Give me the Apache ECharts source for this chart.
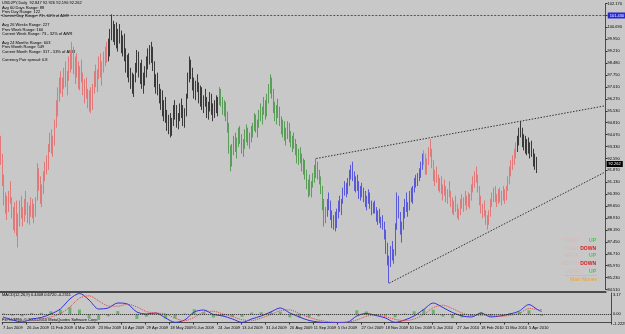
<!DOCTYPE html>
<html>
<head>
<meta charset="utf-8">
<script src="https://cdn.jsdelivr.net/npm/echarts@6/dist/echarts.min.js"></script>
<style>
html, body { margin: 0; padding: 0; background: #c8c8c8; }
#chart { width: 625px; height: 334px; }
</style>
</head>
<body>
<div id="chart"></div>
<script>
// USDJPY daily bars (Jan 2009 - Apr 2010)
const firstOpen = 93.6
const highs = [
  94.0, 92.9, 91.6, 90.5, 90.3, 90.6, 91.2, 90.2, 89.6, 89.9,
  90.0, 89.2, 90.0, 90.3, 89.6, 90.1, 90.6, 89.9, 89.7, 90.2,
  90.1, 89.8, 90.2, 92.3, 92.0, 91.5, 91.0, 91.8, 92.4, 92.8,
  93.5, 94.2, 94.4, 94.0, 95.0, 96.2, 97.0, 97.6, 98.0, 97.6,
  98.2, 98.6, 98.0, 98.9, 99.3, 99.8, 99.5, 98.9, 99.1, 98.6,
  98.3, 98.7, 97.9, 97.5, 97.6, 96.9, 96.8, 97.0, 97.2, 98.0,
  98.4, 98.1, 98.9, 99.1, 98.6, 99.2, 99.5, 99.8, 100.0, 100.6,
  101.5, 101.1, 100.9, 101.0, 100.6, 100.9, 100.5, 100.2, 100.3, 99.4,
  99.0, 99.1, 98.2, 97.9, 97.8, 98.5, 99.3, 99.2, 98.5, 98.7,
  97.9, 98.3, 98.9, 99.4, 99.6, 99.8, 99.5, 98.6, 97.8, 97.9,
  97.2, 96.9, 96.8, 96.2, 96.4, 95.6, 95.3, 95.4, 95.1, 95.9,
  96.2, 95.9, 95.4, 96.0, 96.3, 95.9, 95.7, 96.6, 97.9, 98.9,
  98.7, 98.2, 97.6, 97.4, 97.8, 97.3, 97.1, 97.0, 96.5, 96.9,
  96.4, 96.1, 96.7, 96.6, 96.0, 96.2, 96.5, 96.4, 97.0, 96.9,
  96.4, 96.2, 96.1, 95.5, 94.8, 93.4, 93.5, 94.0, 94.2, 93.9,
  94.5, 94.6, 94.1, 93.8, 94.4, 94.7, 94.5, 94.2, 94.6, 94.8,
  95.4, 95.3, 95.0, 95.6, 96.0, 95.8, 96.4, 96.2, 96.6, 97.2,
  97.8, 97.6, 96.9, 96.1, 95.9, 96.3, 95.8, 95.2, 95.0, 94.9,
  94.5, 94.9, 94.8, 94.3, 94.0, 94.2, 93.8, 93.5, 93.2, 93.3,
  92.9, 92.6, 92.5, 91.9, 91.3, 91.6, 91.2, 91.7, 92.2, 92.6,
  92.4, 91.9, 91.5, 90.9, 90.1, 89.6, 90.1, 90.5, 90.0, 89.4,
  89.1, 89.3, 89.5, 90.0, 90.3, 90.1, 90.8, 91.2, 91.1, 91.4,
  91.9, 92.2, 92.4, 91.8, 91.5, 91.6, 91.2, 90.9, 91.1, 90.8,
  90.6, 90.3, 90.7, 90.5, 90.0, 89.9, 90.0, 89.6, 89.4, 89.5,
  89.0, 89.1, 88.7, 88.2, 87.4, 86.6, 87.2, 87.5, 87.0, 88.6,
  90.5, 90.3, 89.3, 88.7, 89.6, 90.1, 90.5, 89.9, 90.6, 90.8,
  90.9, 91.4, 91.6, 91.7, 92.0, 92.4, 92.9, 93.1, 92.9, 92.6,
  93.3, 93.8, 93.2, 92.5, 91.9, 92.1, 91.6, 91.4, 91.5, 91.0,
  91.3, 90.9, 90.7, 91.2, 90.6, 90.2, 90.0, 90.3, 89.8, 89.5,
  90.1, 90.4, 90.2, 90.6, 90.3, 90.5, 90.4, 91.0, 91.5, 91.8,
  92.1, 91.6, 90.9, 90.3, 89.8, 90.0, 89.4, 89.1, 89.4, 90.1,
  90.5, 90.8, 90.9, 90.4, 90.7, 90.8, 90.6, 90.9, 90.7, 90.9,
  91.5, 92.1, 92.5, 92.8, 93.2, 93.6, 94.0, 94.5, 94.9, 94.5,
  94.1, 94.0, 93.8, 93.9, 93.6, 93.7, 93.2, 92.9, 92.7
]
const lows = [
  92.2, 90.9, 89.7, 89.2, 88.8, 89.3, 89.8, 88.9, 88.2, 88.0,
  87.8, 87.1, 88.4, 88.9, 88.4, 88.7, 89.1, 88.6, 88.5, 89.0,
  88.9, 88.6, 89.0, 90.0, 90.6, 89.8, 89.6, 90.4, 91.2, 91.6,
  91.9, 93.0, 92.9, 92.7, 93.4, 94.5, 95.2, 96.1, 96.6, 96.4,
  96.9, 97.0, 96.5, 97.4, 97.9, 98.1, 97.8, 97.2, 97.6, 96.9,
  96.8, 97.3, 96.5, 96.0, 96.3, 95.7, 95.5, 95.4, 95.6, 96.6,
  97.0, 96.7, 97.5, 97.6, 97.1, 97.9, 98.3, 98.5, 98.6, 98.9,
  99.9, 99.8, 99.6, 99.4, 99.2, 99.7, 99.1, 98.9, 98.6, 97.9,
  97.6, 97.3, 96.9, 96.6, 96.4, 97.3, 97.9, 97.6, 97.2, 96.9,
  96.6, 97.1, 97.6, 98.1, 98.4, 98.5, 98.0, 97.0, 96.6, 96.5,
  96.0, 95.6, 95.2, 94.9, 94.8, 94.3, 94.1, 93.9, 94.0, 94.6,
  95.0, 94.5, 94.4, 94.9, 95.1, 94.6, 94.5, 95.2, 96.3, 97.3,
  97.5, 96.8, 96.3, 96.2, 96.7, 96.0, 95.8, 95.6, 95.4, 95.8,
  95.1, 95.0, 95.5, 95.3, 94.9, 95.1, 95.4, 95.2, 95.9, 95.8,
  95.3, 95.2, 94.9, 94.2, 92.9, 91.8, 92.1, 92.8, 93.0, 92.6,
  93.3, 93.5, 92.9, 92.7, 93.2, 93.6, 93.4, 93.2, 93.6, 93.9,
  94.3, 94.2, 93.9, 94.5, 94.9, 94.7, 95.3, 95.0, 95.2, 96.0,
  96.6, 96.3, 95.4, 94.9, 94.7, 95.1, 94.6, 94.1, 93.9, 93.7,
  93.4, 93.8, 93.6, 93.3, 93.0, 93.2, 92.8, 92.3, 92.2, 92.3,
  91.8, 91.6, 91.3, 90.7, 90.2, 90.3, 90.2, 90.8, 91.1, 91.4,
  91.3, 91.0, 90.4, 89.4, 88.4, 88.6, 89.0, 89.4, 88.8, 88.3,
  88.2, 88.1, 88.3, 88.9, 89.3, 89.1, 89.8, 90.3, 90.2, 90.4,
  90.9, 91.3, 91.2, 90.6, 90.5, 90.6, 90.1, 90.0, 90.2, 89.9,
  89.6, 89.4, 89.8, 89.5, 89.1, 89.2, 89.2, 88.7, 88.5, 88.6,
  88.3, 88.2, 87.6, 86.7, 86.0, 84.9, 85.9, 86.3, 86.1, 86.6,
  88.2, 88.9, 87.9, 87.4, 88.2, 88.9, 89.3, 89.0, 89.4, 89.9,
  89.8, 90.5, 90.8, 90.9, 91.2, 91.4, 91.9, 92.2, 91.6, 91.6,
  92.2, 92.7, 92.0, 91.2, 90.9, 91.1, 90.6, 90.5, 90.4, 90.0,
  90.3, 89.9, 89.8, 90.2, 89.6, 89.2, 89.1, 89.3, 88.9, 88.8,
  89.1, 89.5, 89.3, 89.7, 89.4, 89.6, 89.5, 90.0, 90.5, 90.8,
  91.1, 90.5, 89.7, 89.2, 88.9, 89.0, 88.5, 88.2, 88.5, 89.0,
  89.6, 89.9, 89.9, 89.6, 89.8, 89.9, 89.7, 90.0, 89.8, 90.0,
  90.6, 91.0, 91.5, 91.9, 92.2, 92.6, 93.0, 93.4, 93.9, 93.3,
  93.1, 92.9, 92.8, 92.9, 92.6, 92.7, 92.1, 91.9, 91.7
]
const closes = [
  92.4, 91.2, 90.0, 89.6, 89.9, 90.3, 90.0, 89.2, 88.6, 89.5,
  88.1, 88.9, 89.7, 89.1, 89.4, 89.8, 89.4, 89.0, 89.5, 89.9,
  89.2, 89.5, 89.9, 91.6, 91.0, 90.2, 90.6, 91.5, 92.2, 92.0,
  93.3, 93.8, 93.2, 93.7, 94.8, 95.9, 96.6, 97.4, 97.0, 97.3,
  97.9, 97.5, 97.7, 98.6, 98.2, 99.3, 98.1, 98.5, 97.9, 97.3,
  98.0, 97.6, 96.9, 97.1, 96.5, 96.3, 96.1, 95.8, 96.9, 97.8,
  97.3, 97.9, 98.6, 97.8, 98.4, 98.9, 99.1, 99.4, 99.0, 100.4,
  100.9, 100.2, 100.6, 99.8, 100.4, 100.0, 99.4, 99.7, 98.9, 98.2,
  98.6, 97.6, 97.4, 97.1, 97.6, 98.3, 99.0, 97.9, 98.2, 97.2,
  97.5, 98.1, 98.6, 99.1, 98.7, 99.3, 98.3, 97.3, 97.5, 96.8,
  96.3, 96.5, 95.5, 95.8, 95.1, 94.7, 95.0, 94.3, 94.9, 95.6,
  95.4, 94.9, 95.2, 95.7, 95.5, 95.0, 95.4, 96.4, 97.6, 98.4,
  97.8, 97.2, 96.6, 97.1, 96.9, 96.4, 96.7, 95.9, 96.2, 96.0,
  95.5, 95.8, 96.3, 95.6, 95.4, 95.9, 96.2, 95.7, 96.6, 96.0,
  95.7, 95.9, 95.2, 94.4, 93.1, 92.4, 93.2, 93.6, 93.4, 93.7,
  94.2, 93.8, 93.2, 93.5, 94.0, 94.3, 93.7, 94.0, 94.4, 94.6,
  95.2, 94.6, 94.8, 95.4, 95.2, 95.6, 96.1, 95.4, 96.4, 97.0,
  97.4, 96.6, 95.6, 95.3, 95.7, 95.4, 94.9, 94.5, 94.7, 94.0,
  94.2, 94.6, 93.9, 93.6, 93.7, 93.5, 93.0, 92.6, 92.9, 92.5,
  92.1, 92.3, 91.6, 90.9, 91.0, 90.6, 91.0, 91.4, 91.7, 92.3,
  91.6, 91.2, 90.6, 89.7, 88.8, 89.3, 89.8, 89.7, 89.0, 88.6,
  88.9, 88.4, 89.2, 89.7, 89.6, 90.0, 90.6, 90.8, 90.5, 91.3,
  91.6, 91.8, 91.4, 90.8, 91.2, 90.8, 90.4, 90.7, 90.5, 90.1,
  89.8, 90.1, 90.3, 89.7, 89.5, 89.7, 89.4, 89.0, 89.2, 88.8,
  88.6, 88.5, 87.9, 87.0, 86.3, 86.4, 86.9, 86.6, 86.8, 88.4,
  89.6, 89.1, 88.2, 88.4, 89.3, 89.8, 89.5, 89.6, 90.4, 90.1,
  90.7, 91.2, 91.1, 91.5, 91.8, 92.2, 92.6, 92.5, 92.0, 92.4,
  93.1, 92.9, 92.3, 91.5, 91.6, 91.3, 90.9, 91.2, 90.6, 90.8,
  90.5, 90.3, 90.6, 90.4, 89.8, 89.6, 89.9, 89.5, 89.2, 89.3,
  89.8, 89.7, 90.1, 89.9, 90.2, 89.8, 90.3, 90.8, 91.2, 91.6,
  91.3, 90.7, 90.0, 89.5, 89.6, 89.2, 88.7, 88.9, 89.2, 89.9,
  90.2, 90.6, 90.1, 90.3, 90.5, 90.2, 90.4, 90.3, 90.5, 90.8,
  91.3, 91.8, 92.3, 92.6, 92.9, 93.4, 93.7, 94.3, 94.2, 93.6,
  93.8, 93.2, 93.5, 93.1, 93.3, 93.0, 92.5, 92.3, 92.26
]

// bar colour changes each quarter
const quarterStarts = [0, 68, 138, 206, 267, 326]
const quarterColors = ['#e07a7a', '#3a3a3a', '#5a9e5a', '#5a5ad8', '#e07a7a', '#3a3a3a']

// time axis labels, one every 15 bars
const dateLabels = [
  '7 Jan 2009', '26 Jan 2009', '11 Feb 2009', '4 Mar 2009', '23 Mar 2009', '10 Apr 2009',
  '29 Apr 2009', '18 May 2009', '5 Jun 2009', '24 Jun 2009', '13 Jul 2009', '31 Jul 2009',
  '20 Aug 2009', '11 Sep 2009', '5 Oct 2009', '27 Oct 2009', '18 Nov 2009', '10 Dec 2009',
  '5 Jan 2010', '27 Jan 2010', '18 Feb 2010', '11 Mar 2010', '5 Apr 2010'
]
const labelEvery = 15

// price scale labels
const priceTicks = [
  '84.510', '85.230', '85.970', '86.710', '87.450', '88.190', '88.910', '89.650', '90.390',
  '91.130', '91.870', '92.590', '93.330', '94.070', '94.810', '95.530', '96.270', '97.010',
  '97.750', '98.480', '99.210', '99.950', '100.690', '101.430', '102.170'
]
const priceMin = 84.51
const priceMax = 102.17

const hiLine = 101.43
const bidPrice = 92.262
const upperTrend = [[199, 92.6], [381, 95.85]]
const lowerTrend = [[245, 84.9], [381, 91.75]]

// MACD(12,26,9), sampled every 6 bars from the sub window
const macdStep = 6
const macdLine = [
  -0.40, -0.85, -1.15, -0.70, -0.48, 0.04, 0.79, 2.28, 3.10, 2.13,
  0.79, 0.94, 1.68, 1.53, 0.34, 0.04, 0.19, -0.55, -1.20, -0.85,
  0.34, 0.64, -0.03, -0.25, -0.70, -1.20, -0.70, -0.25, 0.34, 0.94,
  0.19, -0.40, -0.92, -1.15, -1.22, -1.22, -1.18, -0.25, 0.12, -0.18,
  -0.55, -1.20, -0.85, -0.25, 0.72, 1.68, 1.01, 0.27, -0.25, -0.40,
  0.19, -0.40, -0.25, 0.04, 0.49, 1.45, 0.60, 0.44
]
const macdSignal = [
  -0.55, -0.65, -0.85, -0.90, -0.70, -0.40, 0.10, 1.10, 2.40, 2.75,
  2.00, 1.25, 1.20, 1.50, 1.10, 0.40, 0.20, 0.05, -0.60, -0.95,
  -0.45, 0.35, 0.45, 0.05, -0.35, -0.80, -0.95, -0.55, -0.05, 0.55,
  0.65, 0.10, -0.45, -0.85, -1.10, -1.20, -1.18, -0.85, -0.30, -0.10,
  -0.35, -0.75, -0.95, -0.70, -0.05, 1.00, 1.35, 0.85, 0.20, -0.20,
  -0.15, -0.10, -0.30, -0.15, 0.15, 0.85, 0.70, 0.67
]
const macdHist = [
  0.15, -0.20, -0.30, 0.20, 0.22, 0.44, 0.69, 1.05, 0.70, -0.55,
  -0.85, -0.31, 0.48, 0.03, -0.70, -0.36, -0.01, -0.60, -0.60, 0.10,
  0.75, 0.29, -0.48, -0.30, -0.35, -0.40, 0.25, 0.30, 0.39, 0.39,
  -0.46, -0.50, -0.47, -0.30, -0.12, -0.02, 0.00, 0.60, 0.42, -0.08,
  -0.20, -0.45, 0.10, 0.45, 0.77, 0.68, -0.34, -0.58, -0.45, -0.20,
  0.34, -0.30, 0.05, 0.19, 0.34, 0.60, -0.10, -0.23
]
const macdMax = 3.17
const macdMin = -1.2229

const infoLines = [
  'USDJPY,Daily  92.847 92.926 92.196 92.262',
  'Avg 60 Days Range: 88',
  'Prev Day Range: 122',
  'Current Day Range: 73 - 60% of ADR',
  '',
  'Avg 26 Weeks Range: 227',
  'Prev Week Range: 160',
  'Current Week Range: 73 - 32% of AWR',
  '',
  'Avg 24 Months Range: 603',
  'Prev Month Range: 549',
  'Current Month Range: 317 - 53% of AMR',
  '',
  'Currency Pair spread: 0.8'
]
const moves = [['TODAY', 'UP'], ['Y-DAY', 'DOWN'], ['WEEK', 'UP'], ['MONTH', 'DOWN'], ['YEAR', 'UP']]

const totalSlots = 382
const font = 'Liberation Sans'
const hidden = 'rgba(0,0,0,0)'

const chart = echarts.init(document.getElementById('chart'))

const categories = []
for (let i = 0; i < totalSlots; i++) categories.push(i)

const colorOf = i => {
  let c = quarterColors[0]
  quarterStarts.forEach((s, k) => { if (i >= s) c = quarterColors[k] })
  return c
}

const candles = closes.map((c, i) => {
  const o = i === 0 ? firstOpen : closes[i - 1]
  const col = colorOf(i)
  return {
    value: [o, c, lows[i], highs[i]],
    itemStyle: { color: col, color0: col, borderColor: col, borderColor0: col, borderWidth: 1 }
  }
})

const sampleIdx = k => (k < macdLine.length - 1 ? k * macdStep : closes.length - 1)
const fill = arr => {
  const out = new Array(totalSlots).fill(null)
  arr.forEach((v, k) => { out[sampleIdx(k)] = v })
  return out
}

const graphics = []
infoLines.forEach((t, k) => {
  if (!t) return
  graphics.push({
    type: 'text', left: 2, top: 1 + k * 4.4,
    style: { text: t, fill: '#000', font: '4px ' + font }
  })
})
moves.forEach((m, k) => {
  const y = 238 + k * 7.7
  graphics.push({
    type: 'text', right: 46, top: y,
    style: { text: m[0], fill: '#dcb4b4', font: '5px ' + font, textAlign: 'right' }
  })
  graphics.push({
    type: 'text', right: 29, top: y,
    style: { text: m[1], fill: m[1] === 'UP' ? '#3cd03c' : '#d82020', font: 'bold 5px ' + font, textAlign: 'right' }
  })
})
graphics.push({ type: 'rect', shape: { x: 565, y: 275, width: 32, height: 0.6 }, style: { fill: '#e0b070' } })
graphics.push({
  type: 'text', left: 570, top: 277,
  style: { text: 'Main Moves', fill: '#f0a030', font: '5px ' + font }
})
graphics.push({
  type: 'text', left: 2, top: 293,
  style: { text: 'MACD(12,26,9) 0.4408 0.6720 -0.2311', fill: '#000', font: '4px ' + font }
})
graphics.push({
  type: 'text', left: 2, top: 317.5,
  style: { text: 'FxPro MT4, \u00a9 2001-2010 MetaQuotes Software Corp.', fill: '#000', font: '4px ' + font }
})

const option = {
  animation: false,
  backgroundColor: '#c8c8c8',
  textStyle: { fontFamily: font },
  grid: [
    { left: 0, top: 3.5, width: 611, height: 286 },
    { left: 0, top: 293, width: 611, height: 29.5 }
  ],
  xAxis: [
    {
      type: 'category', gridIndex: 0, data: categories, boundaryGap: true,
      axisLine: { show: true, onZero: false, lineStyle: { color: '#4a4a4a', width: 2 } },
      offset: 2,
      axisTick: { show: false }, axisLabel: { show: false }, splitLine: { show: false }
    },
    {
      type: 'category', gridIndex: 1, data: categories, boundaryGap: true,
      axisLine: { show: true, onZero: false, lineStyle: { color: '#4a4a4a', width: 1 } },
      axisTick: {
        show: true, length: 2, lineStyle: { color: '#333' },
        interval: i => i % labelEvery === 0 && i / labelEvery < dateLabels.length
      },
      axisLabel: {
        show: true, fontSize: 4, color: '#000', margin: 3, align: 'left',
        interval: i => i % labelEvery === 0 && i / labelEvery < dateLabels.length,
        formatter: (v, i) => dateLabels[i / labelEvery] || ''
      },
      splitLine: { show: false }
    }
  ],
  yAxis: [
    {
      type: 'value', gridIndex: 0, position: 'right',
      min: priceMin, max: priceMax, interval: (priceMax - priceMin) / (priceTicks.length - 1),
      axisLine: { show: true, lineStyle: { color: '#4a4a4a', width: 1 } },
      axisTick: { show: true, length: 2, lineStyle: { color: '#333' } },
      axisLabel: {
        fontSize: 4, color: '#000', margin: 2,
        formatter: v => priceTicks[Math.round((v - priceMin) / ((priceMax - priceMin) / (priceTicks.length - 1)))]
      },
      splitLine: { show: false }
    },
    {
      type: 'value', gridIndex: 1, position: 'right', min: macdMin, max: macdMax,
      axisLine: { show: true, lineStyle: { color: '#4a4a4a', width: 1 } },
      axisTick: { show: false }, axisLabel: { show: false }, splitLine: { show: false }
    }
  ],
  graphic: graphics,
  series: [
    {
      type: 'candlestick', xAxisIndex: 0, yAxisIndex: 0, barWidth: 1,
      data: candles,
      markLine: {
        silent: true, symbol: 'none',
        data: [
          {
            yAxis: bidPrice,
            lineStyle: { color: hidden, width: 1 },
            label: { position: 'end', formatter: bidPrice.toFixed(3), fontSize: 4, color: '#fff', backgroundColor: '#000', padding: [1, 2], distance: 1 }
          }
        ]
      }
    },
    {
      // horizontal level at the year high
      type: 'line', xAxisIndex: 0, yAxisIndex: 0, data: [[0, hiLine], [totalSlots - 1, hiLine]],
      showSymbol: false, silent: true,
      lineStyle: { color: '#3c3cff', width: 1, type: [2, 1.5] },
      markPoint: {
        symbol: 'rect', symbolSize: [0, 0], silent: true,
        data: [{ coord: [totalSlots - 1, hiLine] }],
        label: {
          show: true, position: 'right', distance: 3, formatter: hiLine.toFixed(3),
          fontSize: 4, color: '#fff', backgroundColor: '#2828d8', padding: [1, 2]
        }
      }
    },
    {
      type: 'line', xAxisIndex: 0, yAxisIndex: 0, data: upperTrend, showSymbol: false, silent: true,
      lineStyle: { color: '#333', width: 1, type: [1.5, 1.5] }
    },
    {
      type: 'line', xAxisIndex: 0, yAxisIndex: 0, data: lowerTrend, showSymbol: false, silent: true,
      lineStyle: { color: '#333', width: 1, type: [1.5, 1.5] }
    },
    {
      type: 'bar', xAxisIndex: 1, yAxisIndex: 1, data: fill(macdHist), barWidth: 3,
      itemStyle: { color: 'rgba(80,170,80,0.75)' },
      markLine: {
        silent: true, symbol: 'none',
        data: [
          { yAxis: 0, lineStyle: { color: '#222', type: 'dotted', width: 1 }, label: { position: 'end', formatter: '0.00', fontSize: 4, color: '#000', distance: 2 } },
          { yAxis: macdMax, lineStyle: { color: hidden }, label: { position: 'end', formatter: '3.17', fontSize: 4, color: '#000', distance: 2, offset: [0, 2] } },
          { yAxis: macdMin, lineStyle: { color: hidden }, label: { position: 'end', formatter: '-1.2229', fontSize: 4, color: '#000', distance: 2, offset: [0, 1] } }
        ]
      }
    },
    {
      type: 'line', xAxisIndex: 1, yAxisIndex: 1, data: fill(macdLine), connectNulls: true,
      showSymbol: false, smooth: 0.3, lineStyle: { color: '#3030e0', width: 1 }
    },
    {
      type: 'line', xAxisIndex: 1, yAxisIndex: 1, data: fill(macdSignal), connectNulls: true,
      showSymbol: false, smooth: 0.3, lineStyle: { color: '#e04040', width: 1, type: 'dotted' }
    }
  ]
}

chart.setOption(option)
</script>
</body>
</html>
